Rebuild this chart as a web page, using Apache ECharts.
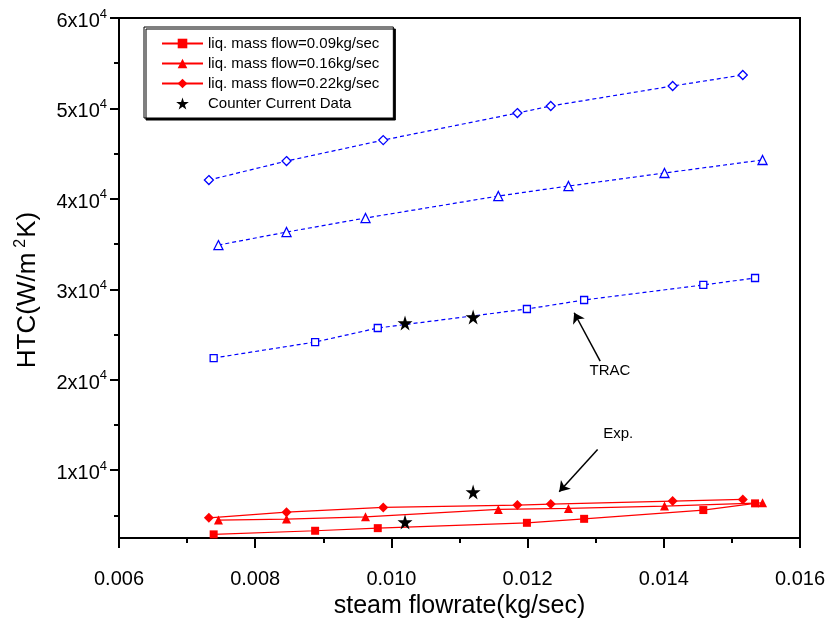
<!DOCTYPE html>
<html>
<head>
<meta charset="utf-8">
<script src="https://cdn.jsdelivr.net/npm/echarts@6/dist/echarts.min.js"></script>
<style>
  html, body { margin: 0; padding: 0; background: #fff; }
  #main { width: 829px; height: 624px; }
</style>
</head>
<body>
<div id="main"></div>
<script>
// steam flowrate (kg/sec) per liquid mass flow
const xs09 = [0.00739, 0.00888, 0.00980, 0.01199, 0.01283, 0.01458, 0.01534];
const xs16 = [0.00746, 0.00846, 0.00962, 0.01157, 0.01260, 0.01401, 0.01545];
const xs22 = [0.00732, 0.00846, 0.00988, 0.01185, 0.01234, 0.01413, 0.01516];

// TRAC prediction (blue dashed)
const trac09 = [22400, 24170, 25720, 27820, 28820, 30480, 31250];
const trac16 = [34890, 36330, 37880, 40310, 41420, 42860, 44300];
const trac22 = [42080, 44180, 46500, 49490, 50270, 52480, 53700];

// experiment (red solid)
const exp09 = [2900, 3300, 3590, 4180, 4620, 5590, 6330];
const exp16 = [4480, 4590, 4840, 5660, 5770, 6030, 6390];
const exp22 = [4730, 5360, 5880, 6140, 6250, 6580, 6770];

// counter current data (stars)
const ccX = [0.0102, 0.0112, 0.0102, 0.0112];
const ccY = [26270, 26930, 4260, 7580];

const yMajor = [10000, 20000, 30000, 40000, 50000, 60000];
const yMinor = [5000, 15000, 25000, 35000, 45000, 55000];

const FONT = 'Liberation Sans, Arial, sans-serif';
const RED = '#ff0000';
const BLUE = '#0000ff';
const STAR = 'path://M50,0 L61,35 L98,35 L68,57 L79,91 L50,70 L21,91 L32,57 L2,35 L39,35 Z';

function pairs(xs, ys) {
  return xs.map((x, i) => [x, ys[i]]);
}

function expSeries(name, xs, ys, symbol, size) {
  return {
    name: name,
    type: 'line',
    data: pairs(xs, ys),
    symbol: symbol,
    symbolSize: size,
    showAllSymbol: true,
    lineStyle: { color: RED, width: 1.2 },
    itemStyle: { color: RED },
    z: 3
  };
}

function tracSeries(name, xs, ys, symbol, size) {
  return {
    name: name,
    type: 'line',
    data: pairs(xs, ys),
    symbol: symbol,
    symbolSize: size,
    showAllSymbol: true,
    lineStyle: { color: BLUE, width: 1.2, type: [4, 3] },
    itemStyle: { color: '#fff', borderColor: BLUE, borderWidth: 1.3 },
    z: 3
  };
}

const chart = echarts.init(document.getElementById('main'));

const option = {
  animation: false,
  backgroundColor: '#fff',
  textStyle: { fontFamily: FONT },
  grid: {
    left: 119, right: 29, top: 18, bottom: 86,
    show: true, borderColor: '#000', borderWidth: 2, backgroundColor: 'transparent'
  },
  legend: {
    orient: 'vertical',
    left: 144,
    top: 27,
    data: ['liq. mass flow=0.09kg/sec', 'liq. mass flow=0.16kg/sec', 'liq. mass flow=0.22kg/sec', 'Counter Current Data'],
    itemWidth: 41,
    itemHeight: 12,
    itemGap: 5,
    padding: [9, 14, 7, 17],
    backgroundColor: '#fff',
    borderColor: '#000',
    borderWidth: 1,
    borderRadius: 0,
    shadowColor: '#000',
    shadowBlur: 0,
    shadowOffsetX: 2,
    shadowOffsetY: 2,
    textStyle: { fontFamily: FONT, fontSize: 15, color: '#000' }
  },
  xAxis: {
    type: 'value',
    min: 0.006,
    max: 0.016,
    interval: 0.002,
    name: 'steam flowrate(kg/sec)',
    nameLocation: 'middle',
    nameGap: 53,
    nameTextStyle: { fontFamily: FONT, fontSize: 25, color: '#000' },
    axisLine: { lineStyle: { color: '#000', width: 2 } },
    axisTick: { length: 10, lineStyle: { color: '#000', width: 2 } },
    minorTick: { show: true, splitNumber: 2, length: 5, lineStyle: { color: '#000', width: 2 } },
    splitLine: { show: false },
    axisLabel: {
      margin: 31,
      fontFamily: FONT, fontSize: 20, color: '#000',
      formatter: v => v.toFixed(3)
    }
  },
  yAxis: [{
    type: 'value',
    min: 2500,
    max: 60000,
    name: '{a|HTC(W/m}{s|2}{a|K)}',
    nameLocation: 'middle',
    nameGap: 76,
    nameTextStyle: {
      padding: [0, 24, 0, 0],
      rich: {
        a: { fontFamily: FONT, fontSize: 26, color: '#000', lineHeight: 30 },
        s: { fontFamily: FONT, fontSize: 16, color: '#000', verticalAlign: 'top', lineHeight: 16, padding: [0, 1, 0, 5] }
      }
    },
    axisLine: { lineStyle: { color: '#000', width: 2 } },
    axisTick: { customValues: yMajor, length: 9, lineStyle: { color: '#000', width: 2 } },
    splitLine: { show: false },
    axisLabel: {
      customValues: yMajor,
      margin: 12,
      padding: [3, 0, 0, 0],
      formatter: v => '{b|' + (v / 10000) + 'x10}{s|4}',
      rich: {
        b: { fontFamily: FONT, fontSize: 20, color: '#000', lineHeight: 24, verticalAlign: 'bottom' },
        s: { fontFamily: FONT, fontSize: 13, color: '#000', lineHeight: 14, verticalAlign: 'top' }
      }
    }
  }, {
    type: 'value',
    min: 2500,
    max: 60000,
    position: 'left',
    axisLine: { show: false },
    axisTick: { customValues: yMinor, length: 5, lineStyle: { color: '#000', width: 2 } },
    axisLabel: { show: false },
    splitLine: { show: false }
  }],
  series: [
    expSeries('liq. mass flow=0.09kg/sec', xs09, exp09, 'rect', 8),
    expSeries('liq. mass flow=0.16kg/sec', xs16, exp16, 'triangle', 9),
    expSeries('liq. mass flow=0.22kg/sec', xs22, exp22, 'diamond', 10),
    tracSeries('TRAC 0.09', xs09, trac09, 'rect', 7),
    tracSeries('TRAC 0.16', xs16, trac16, 'triangle', 9),
    tracSeries('TRAC 0.22', xs22, trac22, 'diamond', 9),
    {
      name: 'Counter Current Data',
      type: 'scatter',
      data: pairs(ccX, ccY),
      symbol: STAR,
      symbolSize: 15,
      itemStyle: { color: '#000', opacity: 1 },
      z: 5,
      markLine: {
        silent: true,
        symbol: ['none', 'arrow'],
        symbolSize: 10,
        lineStyle: { color: '#000', width: 1.5, type: 'solid' },
        label: { show: false },
        data: [
          [{ coord: [0.013066, 22064] }, { coord: [0.012684, 27406] }],
          [{ coord: [0.013028, 12298] }, { coord: [0.012464, 7608] }]
        ]
      },
      markPoint: {
        silent: true,
        symbol: 'circle',
        symbolSize: 1,
        itemStyle: { color: 'rgba(0,0,0,0)' },
        label: { show: true, position: 'inside', formatter: '{b}', fontFamily: FONT, fontSize: 15, color: '#000' },
        data: [
          { name: 'TRAC', coord: [0.013209, 21013] },
          { name: 'Exp.', coord: [0.013331, 14067] }
        ]
      }
    }
  ]
};

chart.setOption(option);
</script>
</body>
</html>
